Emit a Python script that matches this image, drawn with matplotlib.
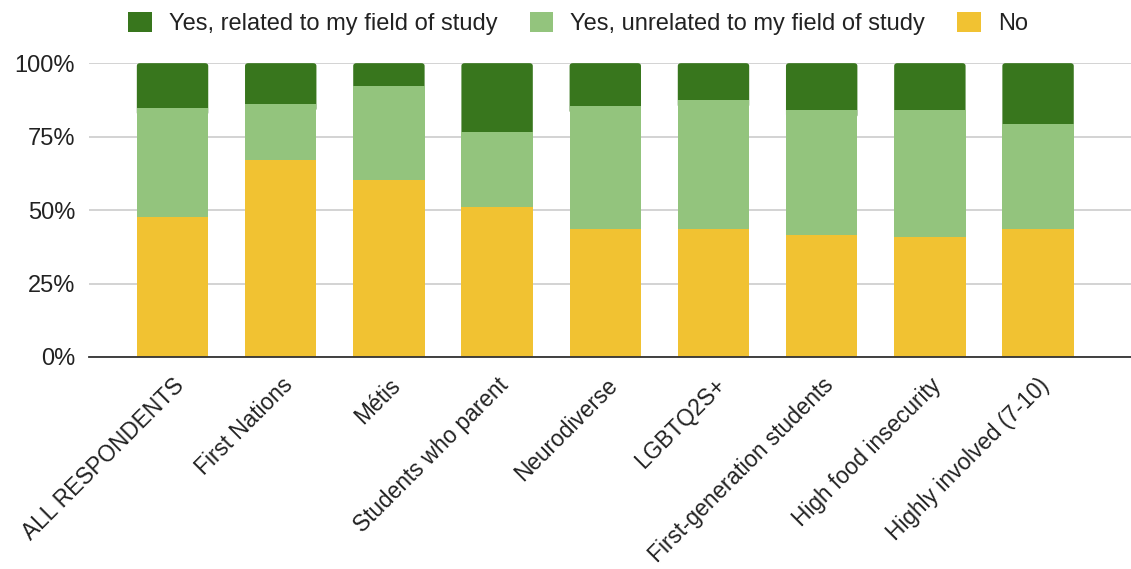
import matplotlib
matplotlib.use("Agg")
import matplotlib.pyplot as plt
import numpy as np
from matplotlib.patches import FancyBboxPatch, Patch

plt.rcParams['font.family'] = ['Liberation Sans', 'DejaVu Sans']

categories = ["ALL RESPONDENTS", "First Nations", "Métis", "Students who parent",
              "Neurodiverse", "LGBTQ2S+", "First-generation students",
              "High food insecurity", "Highly involved (7-10)"]
no_vals = [47.6, 67.1, 60.3, 50.9, 43.4, 43.4, 41.4, 40.7, 43.4]
unrelated_vals = [37.1, 19.0, 31.9, 25.7, 42.0, 43.9, 42.5, 43.2, 35.9]
related_vals = [15.3, 13.9, 7.8, 23.4, 14.6, 12.7, 16.1, 16.1, 20.7]
series_names = ["Yes, related to my field of study", "Yes, unrelated to my field of study", "No"]
ytick_vals = [0, 25, 50, 75, 100]
ytick_labels = ["0%", "25%", "50%", "75%", "100%"]

c_related = "#38761d"
c_unrelated = "#93c47d"
c_no = "#f1c232"
fs = 17

fig = plt.figure(figsize=(11.31, 5.69), dpi=100)
ax = fig.add_axes([0.0787, 0.3726, 0.9213, 0.5164])

x = np.arange(len(categories))
no = np.array(no_vals)
un = np.array(unrelated_vals)
rel = np.array(related_vals)
width = 0.66

bars_rel = ax.bar(x, rel, width, bottom=no + un, color=c_related, zorder=2)
# rounded top corners: replace the top segment with a rounded box whose
# lower rounded corners are hidden under the light-green segment
for b in bars_rel:
    b.set_visible(False)
    y0 = b.get_y() - 2.5
    top = b.get_y() + b.get_height()
    fb = FancyBboxPatch((b.get_x(), y0), b.get_width(), top - y0,
                        boxstyle="round,pad=0,rounding_size=0.03",
                        mutation_aspect=33, facecolor=c_related,
                        edgecolor="none", zorder=2)
    ax.add_patch(fb)
ax.bar(x, un, width, bottom=no, color=c_unrelated, zorder=3)
ax.bar(x, no, width, color=c_no, zorder=3)

ax.set_xlim(-0.772, 8.859)
ax.set_ylim(0, 100)
ax.set_yticks(ytick_vals)
ax.set_yticklabels(ytick_labels, fontsize=fs, color="#222222")
ax.set_xticks(x)
ax.set_xticklabels(categories, rotation=45, ha="right", rotation_mode="anchor",
                   fontsize=16.3, color="#222222")
ax.tick_params(axis="both", length=0)
ax.tick_params(axis="y", pad=10)
ax.tick_params(axis="x", pad=12)

ax.yaxis.grid(True, color="#cccccc", linewidth=1.2, zorder=0)
ax.set_axisbelow(True)
for s in ["top", "right", "left"]:
    ax.spines[s].set_visible(False)
ax.spines["bottom"].set_color("#333333")
ax.spines["bottom"].set_linewidth(1.3)
ax.spines["bottom"].set_zorder(4)

handles = [Patch(facecolor=c_related), Patch(facecolor=c_unrelated), Patch(facecolor=c_no)]
fig.legend(handles, series_names, loc="center", bbox_to_anchor=(0.511, 0.959), ncol=3,
           frameon=False, fontsize=fs, handlelength=1.0, handleheight=0.97,
           handletextpad=0.72, columnspacing=1.36, labelcolor="#222222")

fig.savefig("out.png", dpi=100)
